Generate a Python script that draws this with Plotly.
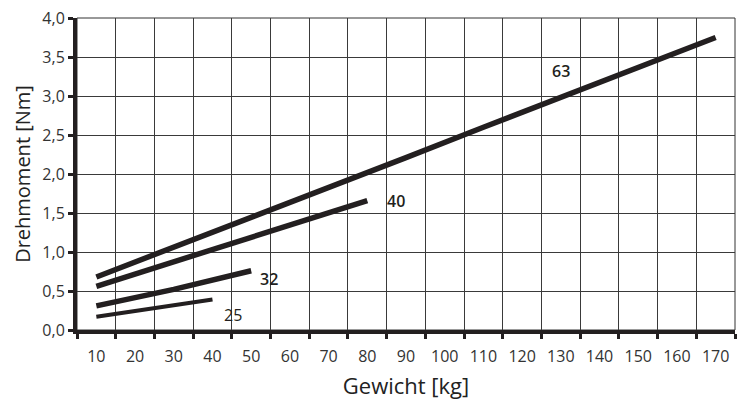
import plotly.graph_objects as go

# Data
weight_63 = [10, 30, 50, 70, 90, 110, 130, 150, 170]
torque_63 = [0.68, 1.06, 1.44, 1.83, 2.21, 2.60, 2.98, 3.37, 3.75]
weight_40 = [10, 30, 50, 70, 80]
torque_40 = [0.56, 0.87, 1.19, 1.50, 1.66]
weight_32 = [10, 30, 50]
torque_32 = [0.31, 0.52, 0.76]
weight_25 = [10, 25, 40]
torque_25 = [0.17, 0.28, 0.39]

series_names = ["63", "40", "32", "25"]
label_x = [130, 87.5, 54.7, 45.4]
label_y = [3.32, 1.65, 0.65, 0.19]

x_ticks = list(range(10, 171, 10))
y_ticks = [0, 0.5, 1.0, 1.5, 2.0, 2.5, 3.0, 3.5, 4.0]

FONT = "Open Sans"
INK = "#231f20"

fig = go.Figure()
series = [(weight_63, torque_63, 5.5), (weight_40, torque_40, 5.5),
          (weight_32, torque_32, 5.5), (weight_25, torque_25, 4)]
for (xs, ys, w), name in zip(series, series_names):
    fig.add_trace(go.Scatter(x=xs, y=ys, mode="lines", name=name,
                             line=dict(color=INK, width=w), showlegend=False))

for name, lx, ly in zip(series_names, label_x, label_y):
    fig.add_annotation(x=lx, y=ly, text=name, showarrow=False,
                       font=dict(family=FONT, size=16, color=INK,
                                 weight=400 if name == "25" else 600))

fig.add_shape(type="rect", xref="paper", yref="paper", x0=0, x1=1, y0=0, y1=1,
              line=dict(color="#333", width=1), layer="below")

# the page body adds an 8px offset, so the figure is sized to 738x395
fig.update_layout(
    width=738, height=395,
    margin=dict(l=69, r=11, t=10, b=73),
    paper_bgcolor="white", plot_bgcolor="white",
    separators=",.",
    font=dict(family=FONT, size=16, color="#333"),
    xaxis=dict(
        range=[5, 175], tickvals=x_ticks, showgrid=False, zeroline=False,
        automargin=False, ticklabeloverflow="allow",
        ticks="outside", ticklen=9, tickcolor="rgba(0,0,0,0)",
        showline=True, linecolor=INK, linewidth=4,
        tickfont=dict(family=FONT, size=16, color="#333"),
        minor=dict(tick0=5, dtick=10, showgrid=True, gridcolor="#3a3a3a",
                   gridwidth=1, ticks="outside", ticklen=5, tickwidth=3,
                   tickcolor=INK),
        title=dict(text="Gewicht [kg]", standoff=13,
                   font=dict(family=FONT, size=22, color="#222")),
    ),
    yaxis=dict(
        range=[0, 4.0], tickvals=y_ticks, tickformat=".1f",
        automargin=False, ticklabeloverflow="allow",
        showgrid=True, gridcolor="#3a3a3a", gridwidth=1, zeroline=False,
        ticks="outside", ticklen=5, tickwidth=3, tickcolor=INK,
        showline=True, linecolor=INK, linewidth=4,
        tickfont=dict(family=FONT, size=16, color="#333"),
        title=dict(text="Drehmoment [Nm]", standoff=7,
                   font=dict(family=FONT, size=20, color="#222")),
    ),
)

fig.write_html("out.html")
